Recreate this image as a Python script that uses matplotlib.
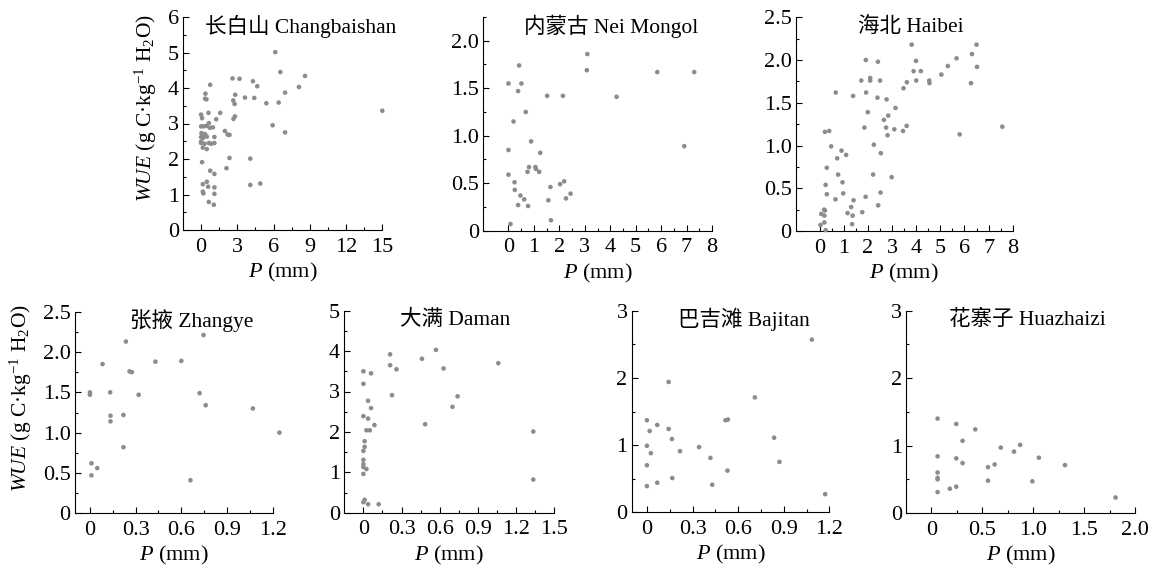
import numpy as np
import matplotlib
matplotlib.use('Agg')
import matplotlib.pyplot as plt
from matplotlib.ticker import FixedLocator, FuncFormatter

plt.rcParams['font.family'] = ['Liberation Serif', 'Noto Sans CJK SC']
plt.rcParams['mathtext.fontset'] = 'custom'
plt.rcParams['mathtext.rm'] = 'Liberation Serif'
plt.rcParams['mathtext.it'] = 'Liberation Serif:italic'
plt.rcParams['font.size'] = 16

# 长白山 Changbaishan
p_cbs = [6.14, 6.56, 8.6, 2.6, 3.18, 4.29, 4.65, 8.1, 0.75, 2.82, 3.63, 4.4, 6.95, 2.66, 2.77, 5.4, 6.42, 0.36,
         0.33, 0.44, 15.0, 0.61, 1.58, 1.25, 2.8, 2.68, 5.92, 6.95, 0.0, 0.08, 0.0, 0.19, 0.42, 0.64, 0.72, 0.97,
         0.03, 0.19, 0.33, 0.0, 0.14, 0.47, 0.0, 0.0, 0.28, 0.64, 0.83, 1.1, 1.1, 0.14, 0.47, 1.97, 2.19, 2.35,
         2.35, 4.07, 0.08, 2.1, 0.75, 1.1, 0.47, 0.14, 0.58, 1.1, 0.14, 0.19, 1.1, 4.07, 4.9, 0.64, 1.05]
wue_cbs = [5.01, 4.45, 4.34, 4.27, 4.26, 4.19, 4.05, 4.03, 4.09, 3.81, 3.73, 3.72, 3.87, 3.65, 3.55, 3.57, 3.59,
           3.84, 3.70, 3.68, 3.36, 3.30, 3.30, 3.12, 3.20, 3.13, 2.95, 2.75, 3.25, 3.15, 2.92, 2.92, 2.93, 3.01,
           2.88, 2.89, 2.73, 2.68, 2.70, 2.62, 2.59, 2.63, 2.49, 2.45, 2.43, 2.45, 2.43, 2.45, 2.62, 2.32, 2.28,
           2.79, 2.69, 2.68, 2.03, 2.01, 1.91, 1.74, 1.67, 1.58, 1.36, 1.29, 1.22, 1.20, 1.08, 1.03, 1.02, 1.27,
           1.31, 0.79, 0.71]

# 内蒙古 Nei Mongol
p_nm = [3.1, 3.08, 5.85, 7.3, 0.42, 0, 0.51, 0.38, 1.52, 2.14, 4.25, 0.68, 0.2, 6.91, 0.89, 0, 1.25, 0.81, 0.75,
        1.06, 1.08, 1.21, 0, 0.24, 0.25, 0.47, 0.62, 0.38, 0.77, 2.03, 2.19, 1.65, 1.57, 2.26, 2.44, 1.67, 0.08]
wue_nm = [1.86, 1.69, 1.67, 1.67, 1.74, 1.55, 1.55, 1.47, 1.42, 1.42, 1.41, 1.25, 1.15, 0.89, 0.94, 0.85, 0.82,
          0.67, 0.62, 0.67, 0.65, 0.62, 0.59, 0.51, 0.43, 0.37, 0.33, 0.27, 0.26, 0.49, 0.52, 0.46, 0.32, 0.34,
          0.39, 0.11, 0.07]

# 海北 Haibei
p_hb = [3.81, 6.5, 6.31, 5.67, 5.31, 6.52, 1.91, 2.41, 3.99, 3.89, 4.19, 5.04, 1.72, 2.09, 2.09, 2.5, 3.61, 4.0,
        4.54, 4.55, 6.27, 3.47, 0.66, 1.92, 1.38, 2.39, 2.77, 1.99, 3.14, 2.84, 2.66, 2.75, 3.09, 1.85, 3.45, 3.6,
        2.81, 5.8, 7.57, 0.21, 0.39, 0.47, 0.9, 0.72, 1.09, 2.24, 2.53, 0.29, 0.76, 2.21, 2.98, 0.94, 0.24, 0.29,
        0.97, 2.52, 0.65, 1.4, 1.9, 1.15, 1.3, 1.36, 1.76, 2.42, 1.34, 0.06, 0.18, 0.21, 0.19, 0.03, 0.19, 0.24]
wue_hb = [2.18, 2.18, 2.07, 2.02, 1.93, 1.92, 2.0, 1.98, 1.99, 1.87, 1.87, 1.83, 1.76, 1.79, 1.76, 1.76, 1.74,
          1.76, 1.76, 1.73, 1.73, 1.67, 1.62, 1.62, 1.58, 1.56, 1.54, 1.39, 1.44, 1.35, 1.30, 1.21, 1.19, 1.21,
          1.17, 1.23, 1.12, 1.13, 1.22, 1.16, 1.17, 0.99, 0.94, 0.85, 0.89, 1.01, 0.91, 0.74, 0.66, 0.66, 0.63,
          0.57, 0.54, 0.43, 0.44, 0.45, 0.37, 0.36, 0.40, 0.21, 0.28, 0.18, 0.22, 0.30, 0.08, 0.20, 0.25, 0.24,
          0.18, 0.07, 0.10, 0.01]

# 张掖 Zhangye
p_zy = [0.236, 0.746, 0.083, 0.43, 0.60, 0.26, 0.275, 0.0, 0.0, 0.133, 0.32, 0.72, 0.76, 1.07, 0.135, 0.22,
        0.135, 1.244, 0.22, 0.01, 0.048, 0.01, 0.66]
wue_zy = [2.13, 2.21, 1.85, 1.88, 1.89, 1.76, 1.75, 1.50, 1.47, 1.50, 1.47, 1.49, 1.34, 1.30, 1.21, 1.22, 1.14,
          1.0, 0.82, 0.62, 0.56, 0.47, 0.41]

# 大满 Daman
p_dm = [0.57, 0.21, 0.46, 1.06, 0.21, 0.26, 0.63, 0, 0.06, 0, 0.225, 0.74, 0.037, 0.06, 0.70, 0, 0.037, 0.087,
        0.485, 0.024, 0.05, 1.335, 0.01, 0.01, 0, 0, 0, 0, 0.024, 0, 1.335, 0.01, 0, 0.037, 0.12]
wue_dm = [4.03, 3.92, 3.81, 3.70, 3.65, 3.55, 3.57, 3.5, 3.45, 3.19, 2.91, 2.88, 2.77, 2.59, 2.62, 2.39, 2.33,
          2.17, 2.19, 2.04, 2.04, 2.01, 1.77, 1.63, 1.53, 1.31, 1.20, 1.13, 1.08, 0.96, 0.82, 0.32, 0.26, 0.21,
          0.21]

# 巴吉滩 Bajitan
p_bjt = [1.085, 0.143, 0.71, 0.0, 0.068, 0.018, 0.143, 0.517, 0.533, 0.165, 0.837, 0.0, 0.026, 0.218, 0.343,
         0.418, 0.0, 0.872, 0.53, 0.167, 0.068, 0.0, 0.43, 1.173]
wue_bjt = [2.57, 1.94, 1.71, 1.37, 1.30, 1.21, 1.24, 1.37, 1.38, 1.09, 1.11, 0.99, 0.88, 0.91, 0.97, 0.81, 0.70,
           0.75, 0.62, 0.51, 0.44, 0.39, 0.41, 0.27]

# 花寨子 Huazhaizi
p_hzz = [0.06, 0.243, 0.43, 0.305, 0.68, 0.87, 0.81, 0.06, 0.243, 1.054, 0.305, 0.62, 0.555, 1.31, 0.06, 0.06,
         0.06, 0.555, 0.99, 0.243, 0.18, 0.06, 1.806]
wue_hzz = [1.40, 1.32, 1.24, 1.07, 0.97, 1.01, 0.91, 0.84, 0.81, 0.82, 0.74, 0.72, 0.68, 0.71, 0.60, 0.52, 0.50,
           0.48, 0.47, 0.39, 0.36, 0.31, 0.23]

W, H = 1156, 567
fig = plt.figure(figsize=(W / 100, H / 100), dpi=100)


def fmt(dec):
    def f(v, _):
        if abs(v) < 1e-9:
            return '0'
        return ('{:.%df}' % dec).format(v)
    return FuncFormatter(f)


def ticks(top, step):
    return np.arange(0, top + step / 2, step)


# name, x, y, box (left, right, top, bottom px), xlim, xmaj, xmin, xdec, ylim, ymaj, ymin, ydec, title pos, ylabel
panels = [
    ('长白山 Changbaishan', p_cbs, wue_cbs, (183, 382.3, 17, 230), (-1.5, 15), 3, 1.5, 0, (0, 6), 1, 0.5, 0, 0.59, True),
    ('内蒙古 Nei Mongol', p_nm, wue_nm, (483, 712, 17, 230.7), (-1, 8), 1, 0.5, 0, (0, 2.25), 0.5, 0.25, 1, 0.56, False),
    ('海北 Haibei', p_hb, wue_hb, (795.7, 1012.7, 17.3, 231), (-1, 8), 1, 0.5, 0, (0, 2.5), 0.5, 0.25, 1, 0.53, False),
    ('张掖 Zhangye', p_zy, wue_zy, (74.7, 272.7, 311.7, 513.3), (-0.1, 1.2), 0.3, 0.15, 1, (0, 2.5), 0.5, 0.25, 1, 0.59, True),
    ('大满 Daman', p_dm, wue_dm, (344.3, 554.3, 310.7, 512.7), (-0.15, 1.5), 0.3, 0.15, 1, (0, 5), 1, 0.5, 0, 0.53, False),
    ('巴吉滩 Bajitan', p_bjt, wue_bjt, (631.7, 829.3, 310.7, 512.3), (-0.1, 1.2), 0.3, 0.15, 1, (0, 3), 1, 0.5, 0, 0.57, False),
    ('花寨子 Huazhaizi', p_hzz, wue_hzz, (906, 1135.3, 310.7, 513), (-0.25, 2.0), 0.5, 0.25, 1, (0, 3), 1, 0.5, 0, 0.53, False),
]

for (name, px, wy, box, xl, xmaj, xmin, xdec, yl, ymaj, ymin, ydec, tx, ylab) in panels:
    l, r, t, b = box
    ax = fig.add_axes([l / W, 1 - b / H, (r - l) / W, (b - t) / H])
    ax.scatter(px, wy, s=11, color='#8c8c8c', edgecolors='none', clip_on=False, zorder=3)
    ax.set_xlim(*xl)
    ax.set_ylim(*yl)
    ax.xaxis.set_major_locator(FixedLocator(ticks(xl[1], xmaj)))
    ax.xaxis.set_minor_locator(FixedLocator(ticks(xl[1], xmin)))
    ax.yaxis.set_major_locator(FixedLocator(ticks(yl[1], ymaj)))
    ax.yaxis.set_minor_locator(FixedLocator(ticks(yl[1], ymin)))
    ax.xaxis.set_major_formatter(fmt(xdec))
    ax.yaxis.set_major_formatter(fmt(ydec))
    for s in ['top', 'right']:
        ax.spines[s].set_visible(False)
    for s in ['left', 'bottom']:
        ax.spines[s].set_linewidth(0.8)
    ax.tick_params(which='major', direction='in', length=4, width=0.8, labelsize=16, pad=3)
    ax.tick_params(which='minor', direction='in', length=2.5, width=0.8)
    ax.tick_params(axis='x', which='major', pad=5.5)
    ax.text(tx, 0.955, name, transform=ax.transAxes, ha='center', va='center', fontsize=15.5)
    ax.set_xlabel(r'$P$ (mm)', fontsize=16, labelpad=3)
    if ylab:
        ax.set_ylabel(r'$WUE$ (g C·kg$^{-1}$ H$_2$O)', fontsize=15.5, labelpad=6)
        ax.yaxis.label.set_y(0.57)

fig.savefig('out.png', dpi=100)
